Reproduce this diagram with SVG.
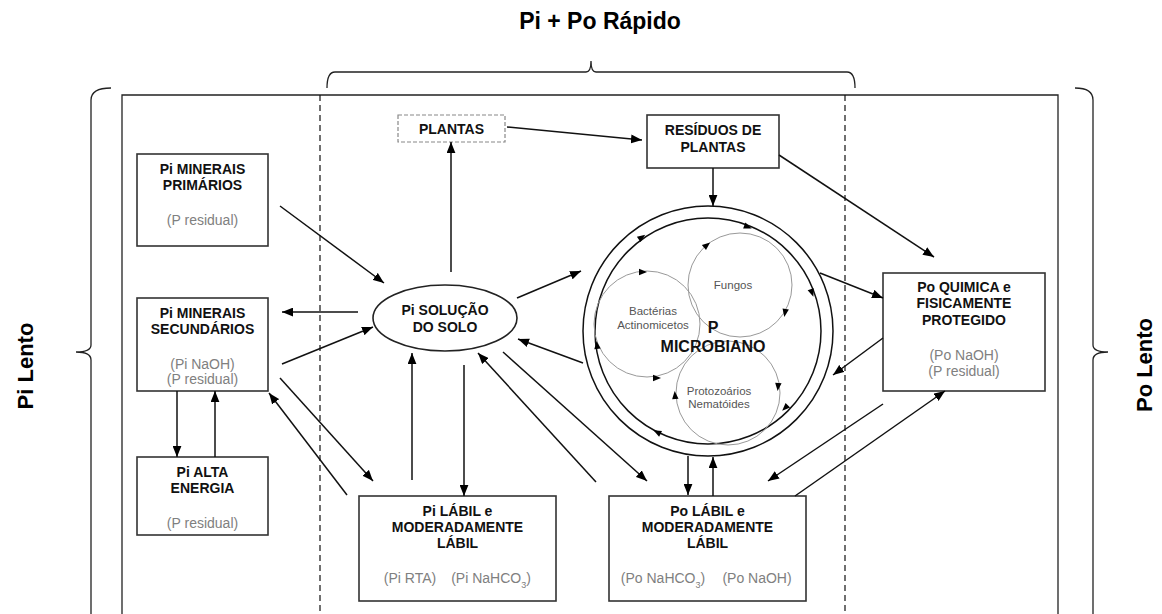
<svg xmlns="http://www.w3.org/2000/svg" width="1162" height="614" viewBox="0 0 1162 614">
<style>
.frame{fill:none;stroke:#222;stroke-width:1.3}
.dash{fill:none;stroke:#111;stroke-width:1.2;stroke-dasharray:6,4}
.box{fill:#fff;stroke:#333;stroke-width:1.6}
.b{font-family:"Liberation Sans",Arial,sans-serif;font-weight:bold;font-size:14px;fill:#111;text-anchor:middle}
.g{font-family:"Liberation Sans",Arial,sans-serif;font-size:14px;fill:#808080;text-anchor:middle}
.s{font-family:"Liberation Sans",Arial,sans-serif;font-size:11.5px;fill:#555;text-anchor:middle}
.big{font-family:"Liberation Sans",Arial,sans-serif;font-weight:bold;font-size:22px;fill:#000;text-anchor:middle}
.conn line{stroke:#111;stroke-width:1.5;marker-end:url(#ah)}
.ring{fill:none;stroke:#111;stroke-width:1.5}
.sub{fill:none;stroke:#999;stroke-width:1}
</style>
<defs>
<marker id="ah" viewBox="0 0 10 8" refX="10" refY="4" markerWidth="11" markerHeight="9" orient="auto" markerUnits="userSpaceOnUse"><path d="M0,0 L10,4 L0,8 z" fill="#000"/></marker>
<path id="sa" d="M4,0 L-4,-3.2 L-4,3.2 z" fill="#000"/>
</defs>
<rect width="1162" height="614" fill="#fff"/>

<g id="brackets">
<text x="600" y="29" class="big" style="font-size:23px">Pi + Po Rápido</text>
<path class="frame" d="M327,88 Q327,72 335,72 L586,72 Q591,72 591,61 Q591,72 596,72 L847,72 Q855,72 855,88"/>
<path class="frame" d="M111,88 Q91,88 91,100 L91,345 Q91,352 76,352 Q91,352 91,360 L91,614"/>
<path class="frame" d="M1075,88 Q1093,88 1093,100 L1093,345 Q1093,352 1108,352 Q1093,352 1093,360 L1093,614"/>
<text class="big" transform="translate(33,366) rotate(-90)">Pi Lento</text>
<text class="big" transform="translate(1152,365) rotate(-90)">Po Lento</text>
</g>

<g id="frame">
<path class="frame" d="M122,614 L122,95 L1058,95 L1058,614"/>
<line class="dash" x1="320" y1="95" x2="320" y2="614"/>
<line class="dash" x1="845" y1="95" x2="845" y2="614"/>
</g>

<g id="plantas">
<rect x="398" y="115" width="107" height="27" fill="#fff" stroke="#888" stroke-width="1.2" stroke-dasharray="4,2"/>
<text x="451.5" y="134" class="b">PLANTAS</text>
</g>

<g id="residuos">
<rect class="box" x="647" y="115" width="132" height="53"/>
<text x="713" y="135" class="b">RESÍDUOS DE</text>
<text x="713" y="152" class="b">PLANTAS</text>
</g>

<g id="pi-primarios">
<rect class="box" x="137" y="154" width="131" height="92"/>
<text x="202.5" y="174" class="b">Pi MINERAIS</text>
<text x="202.5" y="190" class="b">PRIMÁRIOS</text>
<text x="202.5" y="225" class="g">(P residual)</text>
</g>

<g id="pi-secundarios">
<rect class="box" x="137" y="298" width="131" height="93"/>
<text x="202.5" y="318" class="b">Pi MINERAIS</text>
<text x="202.5" y="334" class="b">SECUNDÁRIOS</text>
<text x="202.5" y="369" class="g">(Pi NaOH)</text>
<text x="202.5" y="384" class="g">(P residual)</text>
</g>

<g id="pi-alta">
<rect class="box" x="137" y="457" width="131" height="78"/>
<text x="202.5" y="477" class="b">Pi ALTA</text>
<text x="202.5" y="493" class="b">ENERGIA</text>
<text x="202.5" y="528" class="g">(P residual)</text>
</g>

<g id="solucao">
<ellipse cx="445" cy="318" rx="72" ry="33" fill="#fff" stroke="#222" stroke-width="1.6"/>
<text x="445" y="315" class="b">Pi SOLUÇÃO</text>
<text x="445" y="332" class="b">DO SOLO</text>
</g>

<g id="pi-labil">
<rect class="box" x="359" y="496" width="197" height="105"/>
<text x="457.5" y="516" class="b">Pi LÁBIL e</text>
<text x="457.5" y="532" class="b">MODERADAMENTE</text>
<text x="457.5" y="548" class="b">LÁBIL</text>
<text x="410" y="583" class="g">(Pi RTA)</text>
<text x="491" y="583" class="g">(Pi NaHCO<tspan baseline-shift="sub" font-size="9">3</tspan>)</text>
</g>

<g id="po-labil">
<rect class="box" x="609" y="496" width="197" height="105"/>
<text x="707.5" y="516" class="b">Po LÁBIL e</text>
<text x="707.5" y="532" class="b">MODERADAMENTE</text>
<text x="707.5" y="548" class="b">LÁBIL</text>
<text x="663" y="583" class="g">(Po NaHCO<tspan baseline-shift="sub" font-size="9">3</tspan>)</text>
<text x="757" y="583" class="g">(Po NaOH)</text>
</g>

<g id="po-quimica">
<rect class="box" x="883" y="273" width="162" height="118"/>
<text x="964" y="292" class="b">Po QUIMICA e</text>
<text x="964" y="308" class="b">FISICAMENTE</text>
<text x="964" y="325" class="b">PROTEGIDO</text>
<text x="964" y="360" class="g">(Po NaOH)</text>
<text x="964" y="376" class="g">(P residual)</text>
</g>

<g id="p-microbiano">
<circle class="ring" cx="708" cy="331" r="125"/>
<circle class="ring" cx="708" cy="331" r="113"/>
<circle class="sub" cx="740" cy="285" r="52"/>
<circle class="sub" cx="647" cy="324" r="53"/>
<circle class="sub" cx="728" cy="393" r="52"/>
<use href="#sa" transform="translate(642,237) rotate(-35)"/>
<use href="#sa" transform="translate(748,227) rotate(21)"/>
<use href="#sa" transform="translate(812,293) rotate(70)"/>
<use href="#sa" transform="translate(785,408) rotate(135)"/>
<use href="#sa" transform="translate(657,432) rotate(207)"/>
<use href="#sa" transform="translate(597,345) rotate(263)"/>
<use href="#sa" transform="translate(643,272) rotate(0)"/>
<use href="#sa" transform="translate(657,378) rotate(0)"/>
<use href="#sa" transform="translate(707,245) rotate(-40)"/>
<use href="#sa" transform="translate(785,313) rotate(100)"/>
<use href="#sa" transform="translate(778,387) rotate(95)"/>
<use href="#sa" transform="translate(675,395) rotate(-95)"/>
<text x="733" y="289" class="s">Fungos</text>
<text x="653" y="315" class="s">Bactérias</text>
<text x="653" y="329" class="s">Actinomicetos</text>
<text x="719" y="395" class="s">Protozoários</text>
<text x="719" y="408" class="s">Nematóides</text>
<text x="713" y="333" class="b" style="font-size:16px">P</text>
<text x="713" y="352" class="b" style="font-size:16px">MICROBIANO</text>
</g>

<g id="connectors" class="conn">
<line x1="280" y1="206" x2="384" y2="283"/>
<line x1="358" y1="312" x2="282" y2="312"/>
<line x1="282" y1="364" x2="373" y2="327"/>
<line x1="280" y1="378" x2="373" y2="481"/>
<line x1="347" y1="495" x2="269" y2="393"/>
<line x1="177" y1="391" x2="177" y2="457"/>
<line x1="215" y1="457" x2="215" y2="391"/>
<line x1="451" y1="272" x2="451" y2="142"/>
<line x1="507" y1="127" x2="642" y2="140"/>
<line x1="713" y1="168" x2="713" y2="206"/>
<line x1="779" y1="155" x2="934" y2="257"/>
<line x1="517" y1="298" x2="581" y2="271"/>
<line x1="583" y1="363" x2="518" y2="339"/>
<line x1="820" y1="273" x2="883" y2="298"/>
<line x1="883" y1="338" x2="833" y2="375"/>
<line x1="412" y1="480" x2="412" y2="353"/>
<line x1="464" y1="365" x2="464" y2="496"/>
<line x1="596" y1="482" x2="478" y2="353"/>
<line x1="503" y1="352" x2="647" y2="481"/>
<line x1="688" y1="456" x2="688" y2="495"/>
<line x1="713" y1="496" x2="713" y2="457"/>
<line x1="883" y1="404" x2="768" y2="481"/>
<line x1="795" y1="496" x2="945" y2="391"/>
</g>
</svg>
